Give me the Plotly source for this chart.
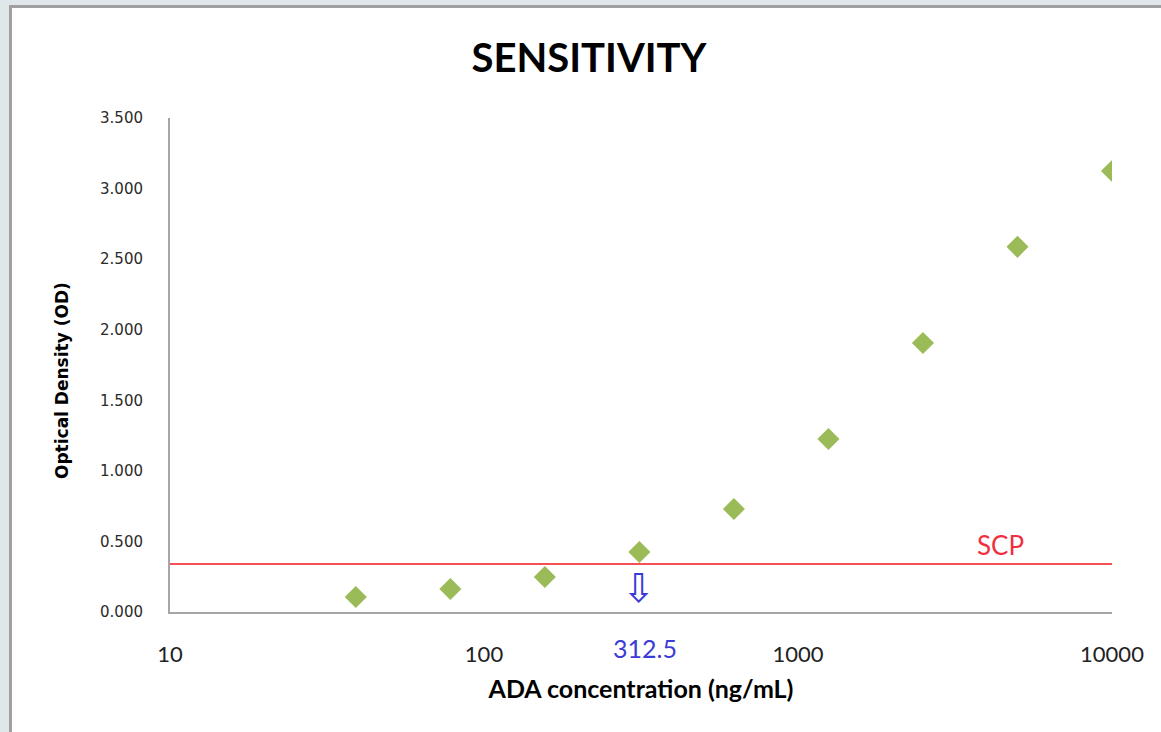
import math
import plotly.graph_objects as go

# ---- data ----
concentration = [39.0625, 78.125, 156.25, 312.5, 625, 1250, 2500, 5000, 10000]
optical_density = [0.106, 0.163, 0.248, 0.425, 0.730, 1.226, 1.906, 2.587, 3.125]
scp_x = [10, 10000]
scp_value = 0.340
x_tickvals = [10, 100, 1000, 10000]
x_ticktext = ["10", "100", "1000", "10000"]
y_tickvals = [0, 0.5, 1.0, 1.5, 2.0, 2.5, 3.0, 3.5]
sensitivity_conc = 312.5
scp_label_x = 4400
scp_label_y = 0.475

W, H = 1161, 732
L, R, T, B = 170, 49, 118, 120
pw, ph = W - L - R, H - T - B

def px_x(p):
    return (p - L) / pw

def px_y(p):
    return (H - B - p) / ph

fig = go.Figure()

fig.add_trace(go.Scatter(
    x=scp_x, y=[scp_value, scp_value], mode="lines",
    line=dict(color="#f25055", width=2), hoverinfo="skip", showlegend=False,
))
fig.add_trace(go.Scatter(
    x=concentration, y=optical_density, mode="markers",
    marker=dict(symbol="diamond", size=17, color="#9bbb59",
                line=dict(width=0)),
    showlegend=False,
))

fig.update_layout(
    width=W, height=H,
    margin=dict(l=L, r=R, t=T, b=B),
    paper_bgcolor="#dfe7eb",
    plot_bgcolor="rgba(0,0,0,0)",
    title=dict(text="<b>SENSITIVITY</b>", x=589 / W, xanchor="center",
               y=1 - 58 / H, yanchor="middle",
               font=dict(family="Lato, sans-serif", size=40, color="#000000")),
    xaxis=dict(type="log", range=[1, 4], tickvals=x_tickvals, ticktext=x_ticktext,
               showgrid=False, zeroline=False, showline=True, linecolor="#a6a6a6", linewidth=2,
               ticks="", ticklabelstandoff=22,
               tickfont=dict(family="Lato, sans-serif", size=22, color="#222222"),
               title=dict(text="<b>ADA concentration (ng/mL)</b>", standoff=14,
                          font=dict(family="Lato, sans-serif", size=25, color="#000000"))),
    yaxis=dict(range=[0, 3.5], tickvals=y_tickvals, tickformat=".3f",
               showgrid=False, zeroline=False, showline=True, linecolor="#a6a6a6", linewidth=2,
               ticks="", ticklabelstandoff=22,
               tickfont=dict(family="DejaVu Sans, Verdana, sans-serif", size=15, color="#2a2a2a")),
    shapes=[dict(type="rect", xref="paper", yref="paper",
                 x0=px_x(10.5), x1=px_x(1175), y0=px_y(6.5), y1=px_y(745),
                 fillcolor="white", line=dict(color="#a0a0a0", width=3), layer="below")],
    annotations=[
        dict(text="<b>Optical Density (OD)</b>", textangle=-90, xref="paper", yref="paper",
             x=px_x(62), y=px_y(381), showarrow=False, xanchor="center", yanchor="middle",
             font=dict(family="DejaVu Sans, Verdana, sans-serif", size=17, color="#000000")),
        dict(text="312.5", xref="x", yref="paper", x=math.log10(sensitivity_conc), y=px_y(648),
             xshift=6, showarrow=False, xanchor="center", yanchor="middle",
             font=dict(family="Lato, sans-serif", size=25, color="#3c3cd6")),
        dict(text="⇩", xref="x", yref="paper", x=math.log10(sensitivity_conc), y=px_y(588),
             showarrow=False, xanchor="center", yanchor="middle",
             font=dict(family="DejaVu Sans, sans-serif", size=40, color="#3a3ad8")),
        dict(text="SCP", xref="x", yref="y", x=math.log10(scp_label_x), y=scp_label_y,
             showarrow=False, xanchor="center", yanchor="middle",
             font=dict(family="Lato, sans-serif", size=26, color="#f03040")),
    ],
)

fig.write_html("out.html", config={"displayModeBar": False},
               post_script="document.body.style.margin='0';")
